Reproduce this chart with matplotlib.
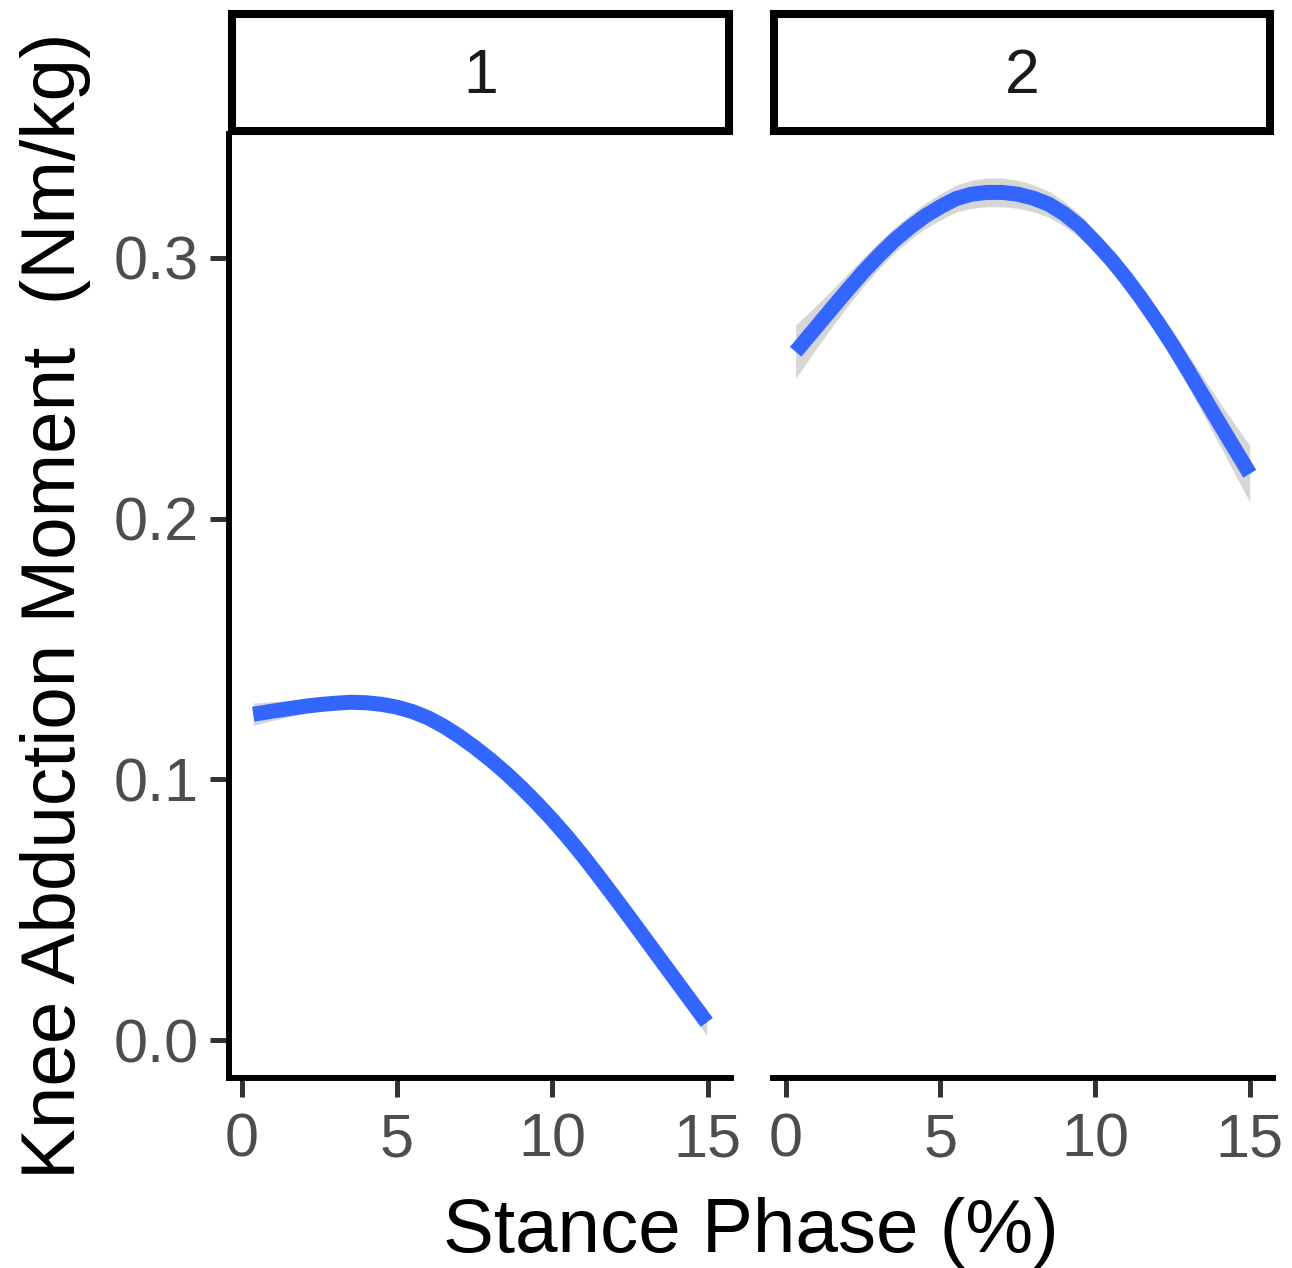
import numpy as np
import matplotlib.pyplot as plt

plt.rcParams['font.family'] = ['Liberation Sans', 'DejaVu Sans']

# facet labels and axis ticks
facets = ['1', '2']
x_ticks = [0, 5, 10, 15]
y_ticks = [0.0, 0.1, 0.2, 0.3]

# smoothed curve, facet 1
x_1 = [0.37, 1.0, 1.5, 2.0, 2.5, 3.0, 3.5, 4.0, 4.5, 5.0, 5.5, 6.0, 6.5, 7.0, 7.5,
       8.0, 8.5, 9.0, 9.5, 10.0, 10.5, 11.0, 11.5, 12.0, 12.5, 13.0, 13.5, 14.0, 14.5, 14.97]
y_1 = [0.1250, 0.1262, 0.1271, 0.1280, 0.1287, 0.1292, 0.1296, 0.1294, 0.1288, 0.1277,
       0.1260, 0.1236, 0.1204, 0.1166, 0.1123, 0.1076, 0.1025, 0.0969, 0.0909, 0.0845,
       0.0777, 0.0704, 0.0627, 0.0548, 0.0468, 0.0387, 0.0306, 0.0225, 0.0144, 0.0068]
se_1 = [0.0043, 0.0036, 0.0031, 0.0027, 0.0025, 0.0023, 0.0022, 0.0022, 0.0022, 0.0022,
        0.0022, 0.0022, 0.0022, 0.0022, 0.0022, 0.0022, 0.0022, 0.0022, 0.0023, 0.0023,
        0.0024, 0.0025, 0.0026, 0.0028, 0.0030, 0.0032, 0.0035, 0.0039, 0.0044, 0.0050]

# facet 2
x_2 = [0.32, 0.5, 1.0, 1.5, 2.0, 2.5, 3.0, 3.5, 4.0, 4.5, 5.0, 5.5, 6.0, 6.5, 7.0, 7.5,
       8.0, 8.5, 9.0, 9.5, 10.0, 10.5, 11.0, 11.5, 12.0, 12.5, 13.0, 13.5, 14.0, 14.5, 15.0]
y_2 = [0.2640, 0.2665, 0.2736, 0.2807, 0.2877, 0.2945, 0.3008, 0.3066, 0.3116, 0.3160,
       0.3196, 0.3227, 0.3244, 0.3251, 0.3251, 0.3244, 0.3229, 0.3206, 0.3169, 0.3122,
       0.3061, 0.2996, 0.2923, 0.2843, 0.2757, 0.2666, 0.2569, 0.2469, 0.2369, 0.2270, 0.2172]
se_2 = [0.0103, 0.0097, 0.0083, 0.0071, 0.0062, 0.0055, 0.0051, 0.0049, 0.0048, 0.0049,
        0.0050, 0.0052, 0.0054, 0.0055, 0.0055, 0.0054, 0.0052, 0.0050, 0.0047, 0.0045,
        0.0043, 0.0042, 0.0042, 0.0044, 0.0048, 0.0054, 0.0062, 0.0071, 0.0082, 0.0095, 0.0108]

curves = [(x_1, y_1, se_1), (x_2, y_2, se_2)]

W, H = 1292, 1268
fig = plt.figure(figsize=(W / 100, H / 100), dpi=100)


def box(left, top, right, bottom):
    return [left / W, 1 - bottom / H, (right - left) / W, (bottom - top) / H]


panels = [(229, 731), (773, 1273)]
strips = [(232, 729), (774, 1270)]
p_top, p_bottom = 134, 1078
s_top, s_bottom = 14, 131

for i, (xs, ys, se) in enumerate(curves):
    l, r = panels[i]
    ax = fig.add_axes(box(l, p_top, r, p_bottom))
    xs = np.array(xs)
    ys = np.array(ys)
    se = np.array(se)
    ax.fill_between(xs, ys - se, ys + se, color='#999999', alpha=0.4, linewidth=0)
    ax.plot(xs, ys, color='#3366FF', linewidth=10.8, solid_capstyle='butt',
            solid_joinstyle='round')

    ax.set_xlim(-0.41, 15.75)
    ax.set_ylim(-0.0145, 0.3475)
    ax.set_xticks(x_ticks)
    ax.set_xticklabels([str(t) for t in x_ticks])
    for s in ['top', 'right']:
        ax.spines[s].set_visible(False)
    ax.spines['bottom'].set_linewidth(4.3)
    ax.spines['left'].set_linewidth(4.3)
    ax.tick_params(axis='x', length=14, width=3.6, color='#333333',
                   labelsize=44, labelcolor='#4D4D4D', pad=11)
    if i == 0:
        ax.set_yticks(y_ticks)
        ax.set_yticklabels([f'{t:.1f}' for t in y_ticks])
        ax.tick_params(axis='y', length=14, width=3.6, color='#333333',
                       labelsize=44, labelcolor='#4D4D4D', pad=8)
    else:
        ax.spines['left'].set_visible(False)
        ax.set_yticks([])

    # facet strip
    sl, sr = strips[i]
    sax = fig.add_axes(box(sl, s_top, sr, s_bottom))
    sax.set_xticks([])
    sax.set_yticks([])
    for s in sax.spines.values():
        s.set_linewidth(5.8)
        s.set_color('black')
    sax.text(0.5, 0.47, facets[i], ha='center', va='center', fontsize=45,
             color='#1A1A1A', transform=sax.transAxes)

fig.text(751 / W, 1 - 1252 / H, 'Stance Phase (%)', ha='center', va='baseline',
         fontsize=55, color='black')
fig.text(75 / W, 1 - 606 / H, 'Knee Abduction Moment  (Nm/kg)', rotation=90,
         rotation_mode='anchor', ha='center', va='baseline', fontsize=55, color='black')

fig.savefig('out.png', dpi=100)
